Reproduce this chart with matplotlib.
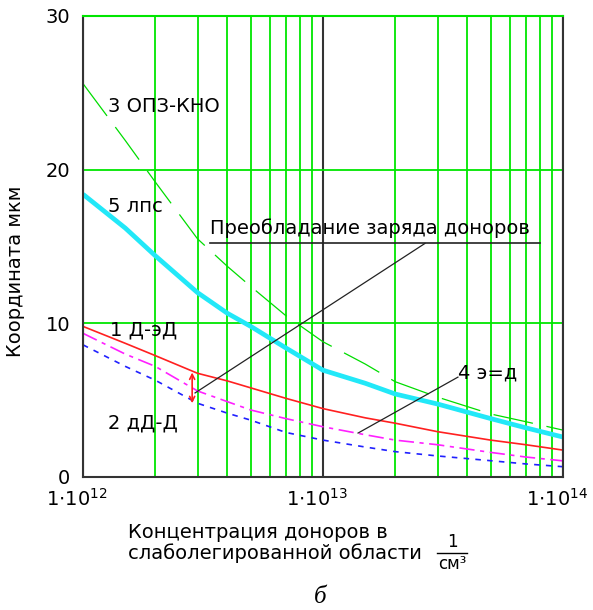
import matplotlib

matplotlib.use("Agg")
import matplotlib.pyplot as plt  # noqa: E402
from matplotlib.lines import Line2D  # noqa: E402
from matplotlib.ticker import FixedLocator, NullFormatter  # noqa: E402
from matplotlib.transforms import ScaledTranslation  # noqa: E402

# -- data -----------------------------------------------------------------------
conc = [1e12, 1.5e12, 2e12, 3e12, 4e12, 5e12, 7e12, 1e13,
        1.5e13, 2e13, 3e13, 5e13, 7e13, 1e14]
# 5 лпс (cyan, thick)
lps = [18.4, 16.2, 14.4, 12.0, 10.65, 9.8, 8.4, 6.95,
       6.1, 5.4, 4.75, 3.8, 3.2, 2.6]
# 1 Д-эД (red)
d_ed = [9.8, 8.7, 7.9, 6.75, 6.25, 5.8, 5.12, 4.45,
        3.85, 3.5, 2.95, 2.4, 2.1, 1.75]
# 4 э=д (magenta, dash-dot)
e_d = [9.35, 8.0, 7.2, 5.6, 4.9, 4.36, 3.8, 3.27,
       2.75, 2.4, 2.1, 1.6, 1.3, 1.05]
# 2 дД-Д (blue, dashed)
dd_d = [8.6, 7.2, 6.3, 4.8, 4.15, 3.7, 2.9, 2.4,
        1.95, 1.65, 1.37, 1.06, 0.85, 0.67]
# 3 ОПЗ-КНО (green, long dash)
opz = [25.6, 21.9, 19.2, 15.5, 13.7, 12.4, 10.5, 8.8,
       7.35, 6.2, 5.2, 4.1, 3.6, 3.05]

xticks = [1e12, 1e13, 1e14]
xtick_labels = [r"$\mathregular{1{\cdot}10^{12}}$", r"$\mathregular{1{\cdot}10^{13}}$",
                r"$\mathregular{1{\cdot}10^{14}}$"]
yticks = [0, 10, 20, 30]

GREEN = "#00e600"
DARK = "#333333"
FS = 14

plt.rcParams["font.family"] = ["DejaVu Sans"]
plt.rcParams["lines.scale_dashes"] = False

fig = plt.figure(figsize=(5.93, 6.10), dpi=100)
W, H = 593, 610
ax = fig.add_axes([83 / W, 133 / H, 480 / W, 461 / H])

ax.set_xscale("log")
ax.set_xlim(1e12, 1e14)
ax.set_ylim(0, 30)
ax.set_axisbelow(True)

minor = [m * 10.0 ** e for e in (12, 13) for m in range(2, 10)]
ax.xaxis.set_minor_locator(FixedLocator(minor))
ax.xaxis.set_minor_formatter(NullFormatter())
ax.set_xticks(xticks)
ax.set_xticklabels(xtick_labels, fontsize=FS)
ax.set_yticks(yticks)
ax.set_yticklabels([str(v) for v in yticks], fontsize=FS)
ax.tick_params(which="both", length=0)
ax.tick_params(axis="x", pad=8)
ax.tick_params(axis="y", pad=9)

ax.grid(which="minor", axis="x", color=GREEN, lw=1.3)
ax.grid(which="major", axis="x", color=DARK, lw=1.5)
ax.grid(which="major", axis="y", color=GREEN, lw=1.3)
for s in ("left", "bottom", "right"):
    ax.spines[s].set_color(DARK)
    ax.spines[s].set_linewidth(1.5)
ax.spines["top"].set_color(GREEN)
ax.spines["top"].set_linewidth(1.5)

# x tick labels sit a little left of their grid line in the original
for lab in ax.get_xticklabels():
    lab.set_transform(lab.get_transform()
                      + ScaledTranslation(-6 / 100, 0, fig.dpi_scale_trans))

# -- curves ---------------------------------------------------------------------
ax.plot(conc, opz, color="#00dd00", lw=0.9, dashes=(29, 10))
ax.plot(conc, lps, color="#22e8f8", lw=3.4, solid_capstyle="butt")
ax.plot(conc, d_ed, color="#ff2020", lw=1.2)
ax.plot(conc, e_d, color="#ff20ff", lw=1.2, dashes=(11, 4, 3, 4))
ax.plot(conc, dd_d, color="#2020ff", lw=1.2, dashes=(4, 4.5))

# -- annotations ------------------------------------------------------------------
ax.text(1.27e12, 24.1, "3 ОПЗ-КНО", fontsize=FS, va="center")
ax.text(1.27e12, 17.6, "5 лпс", fontsize=FS, va="center")
ax.text(1.3e12, 9.55, "1 Д-эД", fontsize=FS, va="center")
ax.text(1.27e12, 3.5, "2 дД-Д", fontsize=FS, va="center")
ax.text(3.65e13, 6.8, "4 э=д", fontsize=FS, va="center")
ax.text(3.38e12, 16.2, "Преобладание заряда доноров", fontsize=FS, va="center")
ax.plot([3.38e12, 8.0e13], [15.2, 15.2], color="#222222", lw=1.2)
ax.plot([2.93e12, 2.66e13], [5.47, 15.2], color="#222222", lw=0.9)
ax.plot([1.40e13, 3.65e13], [2.86, 6.5], color="#222222", lw=0.9)
ax.annotate("", xy=(2.85e12, 4.8), xytext=(2.85e12, 6.8),
            arrowprops=dict(arrowstyle="<->", color="#ff2020", lw=1.2,
                            shrinkA=0, shrinkB=0, mutation_scale=9))

# -- axis labels -------------------------------------------------------------------
ax.set_ylabel("Координата мкм", fontsize=FS)
ax.yaxis.set_label_coords(-0.121, 0.447)

fig.text(128 / W, 1 - 532 / H, "Концентрация доноров в", fontsize=FS,
         va="center", ha="left")
fig.text(128 / W, 1 - 553 / H, "слаболегированной области", fontsize=FS,
         va="center", ha="left")
fig.text(452 / W, 1 - 542 / H, "1", fontsize=12, va="center", ha="center")
fig.add_artist(Line2D([437 / W, 467 / W], [1 - 553 / H, 1 - 553 / H],
                      color="black", lw=1.0))
fig.text(452 / W, 1 - 564 / H, "см³", fontsize=12, va="center", ha="center")
fig.text(320 / W, 1 - 597 / H, "б", fontsize=18, va="center", ha="center",
         family="Liberation Serif", style="italic")

fig.savefig("out.png", dpi=100)
